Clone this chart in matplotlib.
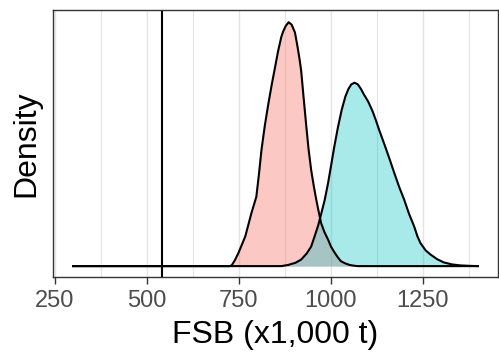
import matplotlib
matplotlib.use("Agg")
import matplotlib.pyplot as plt
from matplotlib.ticker import MultipleLocator

plt.rcParams['font.family'] = ['Liberation Sans', 'DejaVu Sans']

# density curves (relative units, red peak = 1)
fsb_red = [300, 725, 731, 740, 750, 768, 785, 798, 805, 812, 821, 831, 840,
           849, 857, 866, 871, 878, 886, 894, 903, 910, 916, 920, 926, 934,
           940, 947, 954, 961, 968, 974, 983, 993, 1001, 1011, 1020, 1028,
           1040, 1051, 1062, 1073, 1400]
dens_red = [0, 0, 0.003, 0.025, 0.056, 0.122, 0.219, 0.284, 0.375, 0.476,
            0.575, 0.668, 0.745, 0.816, 0.88, 0.94, 0.962, 0.985, 1.0, 0.99,
            0.958, 0.9, 0.844, 0.8, 0.7, 0.571, 0.48, 0.395, 0.33, 0.272,
            0.22, 0.177, 0.14, 0.109, 0.08, 0.055, 0.035, 0.02, 0.011, 0.005,
            0.002, 0, 0]

fsb_teal = [300, 866, 885, 905, 920, 935, 947, 956, 966, 975, 984, 993, 1001,
            1010, 1020, 1030, 1040, 1048, 1056, 1065, 1074, 1083, 1090, 1102,
            1114, 1123, 1132, 1146, 1160, 1173, 1186, 1200, 1213, 1227, 1236,
            1244, 1258, 1271, 1290, 1308, 1330, 1352, 1380, 1400]
dens_teal = [0, 0, 0.005, 0.014, 0.027, 0.052, 0.08, 0.12, 0.166, 0.218,
             0.272, 0.34, 0.41, 0.49, 0.57, 0.64, 0.695, 0.725, 0.745, 0.752,
             0.745, 0.725, 0.705, 0.675, 0.635, 0.598, 0.558, 0.5, 0.44,
             0.382, 0.326, 0.272, 0.215, 0.163, 0.122, 0.095, 0.065, 0.048,
             0.028, 0.015, 0.007, 0.003, 0.001, 0]

ref_point = 542

fig = plt.figure(figsize=(4.99, 3.58), dpi=100)
ax = fig.add_axes([0.106, 0.226, 0.892, 0.746])

ax.fill_between(fsb_red, dens_red, color='#F8766D', alpha=0.4, lw=0)
ax.plot(fsb_red, dens_red, color='black', lw=1.5)
ax.fill_between(fsb_teal, dens_teal, color='#00BFC4', alpha=0.34, lw=0)
ax.plot(fsb_teal, dens_teal, color='black', lw=1.5)
ax.axvline(ref_point, color='black', lw=1.5)

ax.set_xlim(245, 1455)
ax.set_ylim(-0.045, 1.05)
ax.xaxis.set_major_locator(MultipleLocator(250))
ax.xaxis.set_minor_locator(MultipleLocator(125))
ax.grid(which='major', axis='x', color='#E4E4E4', lw=1.0, zorder=0)
ax.grid(which='minor', axis='x', color='#E4E4E4', lw=0.8, zorder=0)
ax.set_axisbelow(True)
ax.set_yticks([])
ax.tick_params(axis='x', which='major', length=5, width=1.0, color='#333333',
               labelsize=17, labelcolor='#4D4D4D', pad=4)
ax.tick_params(axis='x', which='minor', length=0)
for s in ax.spines.values():
    s.set_color('#333333')
    s.set_linewidth(1.0)

ax.set_xlabel('FSB (x1,000 t)', fontsize=23, labelpad=6)
ax.set_ylabel('Density', fontsize=23, labelpad=8)

fig.savefig('out.png', dpi=100)
